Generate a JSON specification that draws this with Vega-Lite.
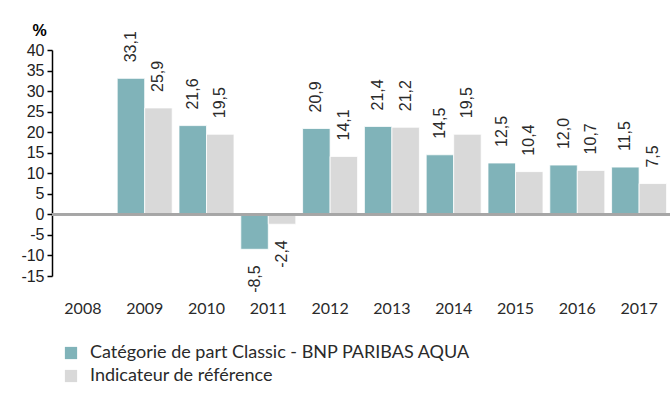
{
  "$schema": "https://vega.github.io/schema/vega-lite/v6.json",
  "autosize": "none",
  "width": 618,
  "height": 226,
  "padding": {"left": 52, "top": 50, "right": 0, "bottom": 137},
  "background": "white",
  "config": {
    "view": {"stroke": null},
    "locale": {"number": {"decimal": ",", "thousands": " ", "grouping": [3], "currency": ["", " €"], "minus": "-"}}
  },
  "data": {"values": [
    {"year": "2009", "series": "Catégorie de part Classic - BNP PARIBAS AQUA", "value": 33.1},
    {"year": "2009", "series": "Indicateur de référence", "value": 25.9},
    {"year": "2010", "series": "Catégorie de part Classic - BNP PARIBAS AQUA", "value": 21.6},
    {"year": "2010", "series": "Indicateur de référence", "value": 19.5},
    {"year": "2011", "series": "Catégorie de part Classic - BNP PARIBAS AQUA", "value": -8.5},
    {"year": "2011", "series": "Indicateur de référence", "value": -2.4},
    {"year": "2012", "series": "Catégorie de part Classic - BNP PARIBAS AQUA", "value": 20.9},
    {"year": "2012", "series": "Indicateur de référence", "value": 14.1},
    {"year": "2013", "series": "Catégorie de part Classic - BNP PARIBAS AQUA", "value": 21.4},
    {"year": "2013", "series": "Indicateur de référence", "value": 21.2},
    {"year": "2014", "series": "Catégorie de part Classic - BNP PARIBAS AQUA", "value": 14.5},
    {"year": "2014", "series": "Indicateur de référence", "value": 19.5},
    {"year": "2015", "series": "Catégorie de part Classic - BNP PARIBAS AQUA", "value": 12.5},
    {"year": "2015", "series": "Indicateur de référence", "value": 10.4},
    {"year": "2016", "series": "Catégorie de part Classic - BNP PARIBAS AQUA", "value": 12.0},
    {"year": "2016", "series": "Indicateur de référence", "value": 10.7},
    {"year": "2017", "series": "Catégorie de part Classic - BNP PARIBAS AQUA", "value": 11.5},
    {"year": "2017", "series": "Indicateur de référence", "value": 7.5}
  ]},
  "encoding": {
    "x": {
      "field": "year", "type": "nominal",
      "scale": {"domain": ["2008","2009","2010","2011","2012","2013","2014","2015","2016","2017"], "paddingInner": 0.11, "paddingOuter": 0.055},
      "axis": {"title": null, "orient": "bottom", "offset": 20, "domain": false, "ticks": false, "labelAngle": 0, "labelFont": "Lato, sans-serif", "labelFontWeight": "normal", "labelFontSize": 16, "labelColor": "#2a2a2a", "labelPadding": 4}
    },
    "xOffset": {"field": "series", "type": "nominal", "scale": {"domain": ["Catégorie de part Classic - BNP PARIBAS AQUA", "Indicateur de référence"], "paddingInner": 0, "paddingOuter": 0}},
    "y": {
      "field": "value", "type": "quantitative",
      "scale": {"domain": [-15, 40], "nice": false, "zero": false},
      "axis": {"values": [-15,-10,-5,0,5,10,15,20,25,30,35,40], "grid": false, "domainColor": "#000000", "domainWidth": 1.5, "tickColor": "#000000", "tickSize": 5, "tickWidth": 1.5, "labelFont": "Liberation Sans, Arial, sans-serif", "labelFontSize": 16, "labelColor": "#222222", "labelPadding": 3, "title": "%", "titleAngle": 0, "titleX": -13, "titleY": -20, "titleAlign": "center", "titleBaseline": "middle", "titleFont": "Liberation Sans, Arial, sans-serif", "titleFontSize": 16, "titleFontWeight": "bold", "titleColor": "#000000"}
    }
  },
  "layer": [
    {
      "mark": {"type": "bar", "stroke": "white", "strokeWidth": 0.8},
      "encoding": {
        "color": {
          "field": "series", "type": "nominal",
          "scale": {"domain": ["Catégorie de part Classic - BNP PARIBAS AQUA", "Indicateur de référence"], "range": ["#80b3b9", "#d9d9d9"]},
          "legend": {"title": null, "orient": "none", "legendX": 10, "legendY": 294, "symbolType": "square", "symbolSize": 150, "symbolStrokeWidth": 0, "labelFont": "Lato, sans-serif", "labelFontWeight": "normal", "labelFontSize": 18, "labelColor": "#2a2a2a", "labelLimit": 600, "rowPadding": 5, "labelOffset": 10}
        }
      }
    },
    {
      "mark": {"type": "rule", "color": "#a6a6a6", "strokeWidth": 2},
      "encoding": {"y": {"datum": 0}, "x": {"value": 0}, "x2": {"value": 618}, "xOffset": null}
    },
    {
      "transform": [{"filter": "datum.value >= 0"}],
      "mark": {"type": "text", "angle": 270, "align": "left", "baseline": "middle", "dx": 16, "font": "Liberation Sans, Arial, sans-serif", "fontSize": 16, "color": "#2a2a2a"},
      "encoding": {"text": {"field": "value", "type": "quantitative", "format": ".1f"}}
    },
    {
      "transform": [{"filter": "datum.value < 0"}],
      "mark": {"type": "text", "angle": 270, "align": "right", "baseline": "middle", "dx": -16, "font": "Liberation Sans, Arial, sans-serif", "fontSize": 16, "color": "#2a2a2a"},
      "encoding": {"text": {"field": "value", "type": "quantitative", "format": ".1f"}}
    }
  ]
}
